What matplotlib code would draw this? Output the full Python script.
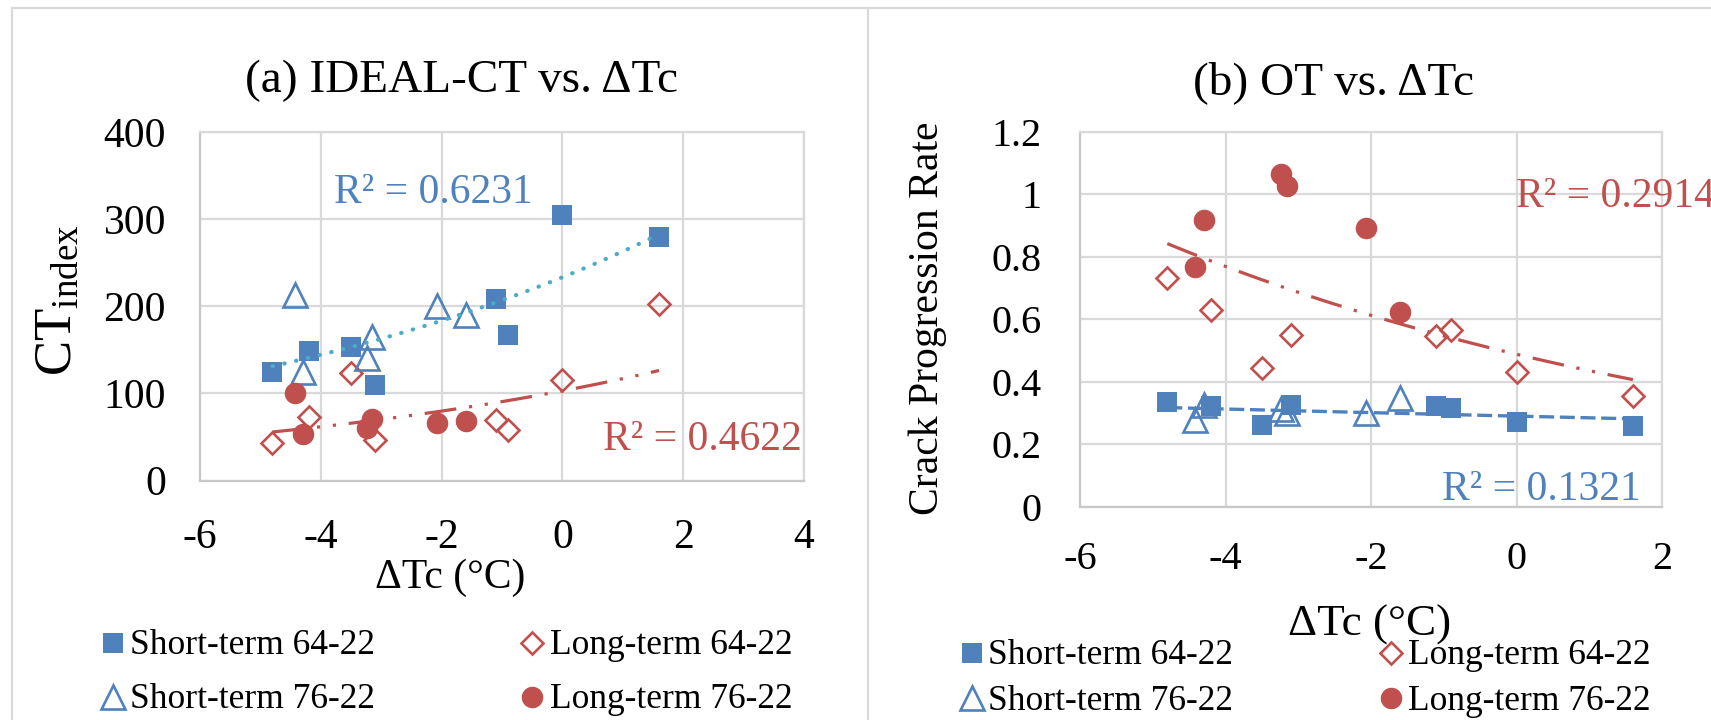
import numpy as np
import matplotlib
matplotlib.use('Agg')
import matplotlib.pyplot as plt
from matplotlib.lines import Line2D

plt.rcParams['font.family'] = ['Liberation Serif', 'DejaVu Serif']
plt.rcParams['mathtext.fontset'] = 'custom'
plt.rcParams['mathtext.rm'] = 'Liberation Serif'
plt.rcParams['mathtext.it'] = 'Liberation Serif:italic'
plt.rcParams['axes.unicode_minus'] = False

W, H = 1711, 720

# delta Tc of each binder (same x in both panels)
dtc_64 = [-4.80, -4.20, -3.50, -3.10, -1.10, -0.90, 0.0, 1.60]
dtc_76 = [-4.42, -4.30, -3.24, -3.16, -2.07, -1.60]

# (a) IDEAL-CT index
ct_short_64 = [124, 149, 153, 110, 208, 167, 305, 280]
ct_long_64 = [43, 73, 123, 47, 70, 58, 115, 203]
ct_short_76 = [213, 125, 141, 165, 200, 190]
ct_long_76 = [100, 53, 60, 71, 66, 68]

# (b) OT crack progression rate
ot_short_64 = [0.336, 0.322, 0.261, 0.325, 0.322, 0.315, 0.270, 0.259]
ot_long_64 = [0.733, 0.631, 0.443, 0.549, 0.546, 0.565, 0.432, 0.354]
ot_short_76 = [0.277, 0.325, 0.314, 0.299, 0.300, 0.349]
ot_long_76 = [0.768, 0.919, 1.065, 1.027, 0.893, 0.624]

r2_a = ['R² = 0.6231', 'R² = 0.4622']
r2_b = ['R² = 0.2914', 'R² = 0.1321']

x_ticks_a = [-6, -4, -2, 0, 2, 4]
y_ticks_a = [0, 100, 200, 300, 400]
x_ticks_b = [-6, -4, -2, 0, 2]
y_ticks_b = [0, 0.2, 0.4, 0.6, 0.8, 1.0, 1.2]
y_labels_b = ['0', '0.2', '0.4', '0.6', '0.8', '1', '1.2']

labels = ['Short-term 64-22', 'Long-term 64-22', 'Short-term 76-22', 'Long-term 76-22']

BLUE = '#4F81BD'
RED = '#C0504D'
AQUA = '#4BACC6'
GRID = '#D9D9D9'

styles = [
    dict(marker='s', ms=14.5, color=BLUE, mew=0, linestyle='none'),
    dict(marker='D', ms=11.5, color=RED, mfc='none', mec=RED, mew=1.9, linestyle='none'),
    dict(marker='^', ms=17, color=BLUE, mfc='none', mec=BLUE, mew=1.9, linestyle='none'),
    dict(marker='o', ms=15.5, color=RED, mew=0, linestyle='none'),
]

DASH_DOT_DOT = (0, (10, 4, 1, 4, 1, 4))


def fx(x):
    return x / W


def fy(y):
    return 1 - y / H


def exp_trend(x, y):
    b, a = np.polyfit(x, np.log(y), 1)
    xs = np.linspace(min(x), max(x), 100)
    return xs, np.exp(a + b * xs)


def style_axes(ax, xt, yt, ylab, xpad, ypad):
    ax.set_xticks(xt)
    ax.set_yticks(yt)
    if ylab is not None:
        ax.set_yticklabels(ylab)
    ax.set_xlim(xt[0], xt[-1])
    ax.set_ylim(yt[0], yt[-1])
    ax.grid(True, color=GRID, lw=1.6)
    ax.set_axisbelow(True)
    for s in ax.spines.values():
        s.set_color(GRID)
        s.set_linewidth(1.6)
    ax.spines['bottom'].set_color('#C8C8C8')
    ax.spines['left'].set_color('#C8C8C8')
    ax.tick_params(length=0, labelsize=30)
    ax.tick_params(axis='x', pad=xpad)
    ax.tick_params(axis='y', pad=ypad)


def legend_block(x_mark, x_text, y_rows):
    pos = [(0, 0), (1, 0), (0, 1), (1, 1)]
    for (c, r), st, lab in zip(pos, styles, labels):
        fig.add_artist(Line2D([fx(x_mark[c])], [fy(y_rows[r])], transform=fig.transFigure, **st))
        fig.text(fx(x_text[c]), fy(y_rows[r] + 11.5), lab, fontsize=25.5, va='baseline', ha='left')


fig = plt.figure(figsize=(W / 100, H / 100), dpi=100)

# chart area borders
for xs_, ys_ in [([12, W], [8, 8]), ([12, 12], [8, H]), ([868.5, 868.5], [8, H])]:
    fig.add_artist(Line2D([fx(v) for v in xs_], [fy(v) for v in ys_], transform=fig.transFigure,
                          color=GRID, lw=1.6))

# ---- (a) IDEAL-CT ----
ax1 = fig.add_axes([fx(200), fy(480.5), 604 / W, 348.5 / H])
style_axes(ax1, x_ticks_a, y_ticks_a, None, 27.5, 24.5)
ax1.plot(dtc_64, ct_short_64, **styles[0])
ax1.plot(dtc_64, ct_long_64, **styles[1])
ax1.plot(dtc_76, ct_short_76, **styles[2])
ax1.plot(dtc_76, ct_long_76, **styles[3])

xs, ys = exp_trend(dtc_64 + dtc_76, ct_short_64 + ct_short_76)
ax1.plot(xs, ys, color=AQUA, lw=3.0, linestyle=(0, (0.1, 2.8)), dash_capstyle='round', zorder=5)
xs, ys = exp_trend(dtc_64 + dtc_76, ct_long_64 + ct_long_76)
ax1.plot(xs, ys, color=RED, lw=2.3, linestyle=DASH_DOT_DOT, zorder=5)

fig.text(fx(462), fy(92), '(a) IDEAL-CT vs. ΔTc', fontsize=34, ha='center', va='baseline')
fig.text(fx(450), fy(588), 'ΔTc (°C)', fontsize=30, ha='center', va='baseline')
fig.text(fx(58), fy(300), r'CT$_{\mathrm{index}}$', fontsize=38, rotation=90, ha='center', va='center')
fig.text(fx(334), fy(203), r2_a[0], fontsize=30, color=BLUE, ha='left', va='baseline')
fig.text(fx(603), fy(450), r2_a[1], fontsize=30, color=RED, ha='left', va='baseline')

legend_block([113, 532], [130, 550], [643, 697])

# ---- (b) OT ----
ax2 = fig.add_axes([fx(1080), fy(506.7), 582 / W, 374.7 / H])
style_axes(ax2, x_ticks_b, y_ticks_b, y_labels_b, 24.5, 27.5)
ax2.tick_params(labelsize=29)
ax2.plot(dtc_64, ot_short_64, **styles[0])
ax2.plot(dtc_64, ot_long_64, **styles[1])
ax2.plot(dtc_76, ot_short_76, **styles[2])
ax2.plot(dtc_76, ot_long_76, **styles[3])

xs, ys = exp_trend(dtc_64 + dtc_76, ot_long_64 + ot_long_76)
ax2.plot(xs, ys, color=RED, lw=2.3, linestyle=DASH_DOT_DOT, zorder=5)
xs, ys = exp_trend(dtc_64 + dtc_76, ot_short_64 + ot_short_76)
ax2.plot(xs, ys, color=BLUE, lw=2.4, linestyle=(0, (4.5, 1.7)), zorder=5)

fig.text(fx(1334), fy(94), '(b) OT vs. ΔTc', fontsize=34, ha='center', va='baseline')
fig.text(fx(1370), fy(636), 'ΔTc (°C)', fontsize=32.5, ha='center', va='baseline')
fig.text(fx(928), fy(318), 'Crack Progression Rate', fontsize=30, rotation=90, ha='center', va='center')
fig.text(fx(1516), fy(207), r2_b[0], fontsize=30, color=RED, ha='left', va='baseline')
fig.text(fx(1442), fy(500), r2_b[1], fontsize=30, color=BLUE, ha='left', va='baseline')

legend_block([972, 1391], [988, 1408], [653, 698])

fig.savefig('out.png', dpi=100)
